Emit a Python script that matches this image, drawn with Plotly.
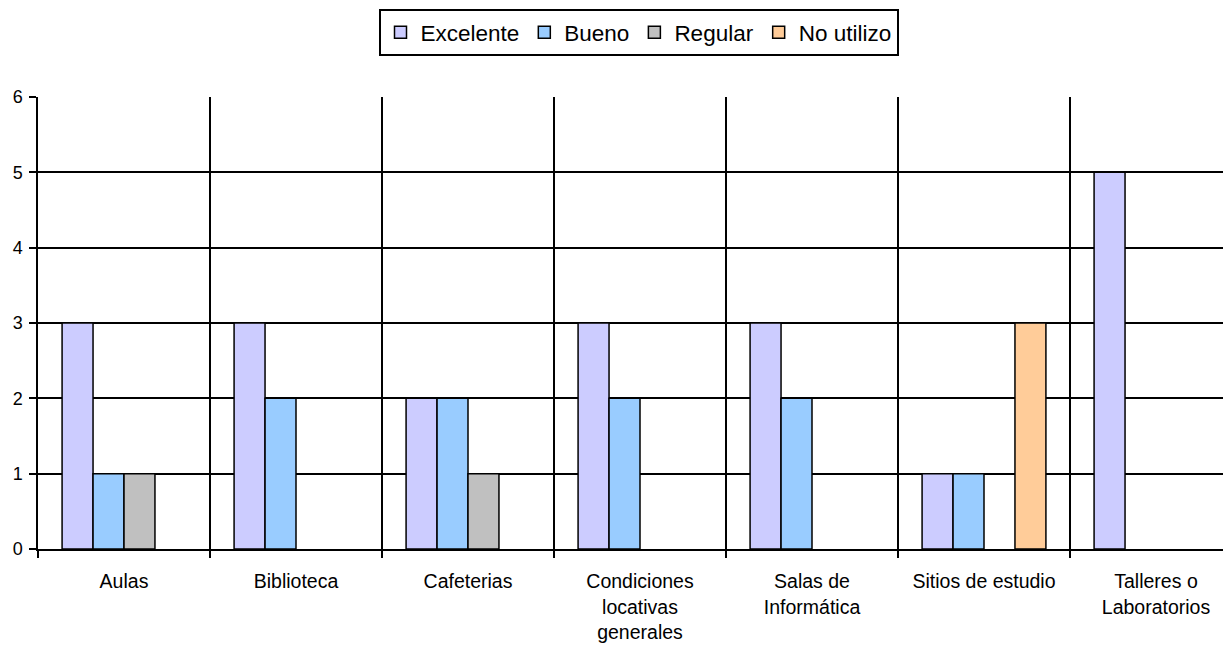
import plotly.graph_objects as go

categories = ["Aulas", "Biblioteca", "Cafeterias", "Condiciones<br>locativas<br>generales",
              "Salas de<br>Informática", "Sitios de estudio", "Talleres o<br>Laboratorios"]
excelente = [3, 3, 2, 3, 3, 1, 5]
bueno = [1, 2, 2, 2, 2, 1, 0]
regular = [1, 0, 1, 0, 0, 0, 0]
no_utilizo = [0, 0, 0, 0, 0, 3, 0]
series_names = ["Excelente", "Bueno", "Regular", "No utilizo"]
colors = ["#CCCCFF", "#99CCFF", "#C0C0C0", "#FFCC99"]
y_ticks = [0, 1, 2, 3, 4, 5, 6]

xpos = list(range(len(categories)))
fig = go.Figure()
for name, vals, col in zip(series_names, [excelente, bueno, regular, no_utilizo], colors):
    fig.add_trace(go.Bar(
        x=xpos, y=[v if v else None for v in vals], name=name,
        marker=dict(color=col, line=dict(color="black", width=1.5)),
    ))

# page body adds an 8px offset; figure sized to fill the rest of the window
W, H = 1223, 639
L, T = 30, 89
B = H - 541
cat_w = 172
xmax = -0.5 + (W - L) / cat_w

fig.update_layout(
    width=W, height=H,
    margin=dict(l=L, r=0, t=T, b=B),
    plot_bgcolor="white", paper_bgcolor="white",
    barmode="group", bargap=0.28, bargroupgap=0,
    font=dict(family="Liberation Sans, Arial", color="black", size=19),
    showlegend=True,
    legend=dict(orientation="h", x=630.5 / W, xanchor="center", xref="container",
                y=1 - 1 / H, yanchor="top", yref="container",
                bordercolor="black", borderwidth=2,
                font=dict(size=22.5), itemwidth=30, tracegroupgap=0,
                traceorder="normal"),
    xaxis=dict(range=[-0.5, xmax], tickmode="array", tickvals=xpos, ticktext=categories,
               showgrid=False, ticks="", zeroline=False, showline=True, linecolor="black",
               linewidth=1.5, tickfont=dict(size=19.5), automargin=False,
               ticklabelstandoff=14,
               minor=dict(tickmode="array", tickvals=[i - 0.5 for i in range(len(categories) + 1)],
                          showgrid=True, gridcolor="black", gridwidth=1.5,
                          ticks="outside", ticklen=7, tickcolor="black", tickwidth=1.5)),
    yaxis=dict(range=[0, 6], tickmode="array", tickvals=y_ticks, showgrid=True,
               gridcolor="black", gridwidth=1.5, ticks="outside", ticklen=7,
               tickcolor="black", tickwidth=1.5, showline=True, linecolor="black",
               linewidth=1.5, zeroline=False, tickfont=dict(size=18), automargin=False,
               ticklabelstandoff=3),
)
fig.write_html("out.html")
